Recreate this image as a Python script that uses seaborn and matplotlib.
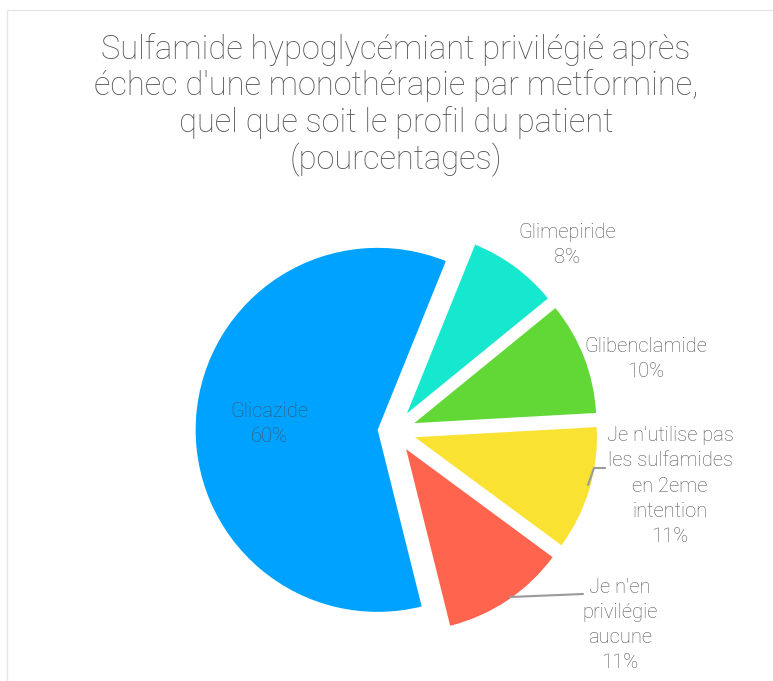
import matplotlib.pyplot as plt
import matplotlib.patches as mpatches
import seaborn as sns

sns.set_theme(style="white")
plt.rcParams['font.family'] = ['Roboto', 'DejaVu Sans']

labels = ["Glimepiride", "Glibenclamide",
          "Je n'utilise pas\nles sulfamides\nen 2eme\nintention",
          "Je n'en\nprivilégie\naucune", "Glicazide"]
values = [8, 10, 11, 11, 60]
colors = sns.color_palette(["#16E7CF", "#61D836", "#FAE232", "#FF644E", "#00A2FF"])
explode = [0.12, 0.12, 0.12, 0.12, 0.09]

title = ("Sulfamide hypoglycémiant privilégié après\n"
         "échec d'une monothérapie par metformine,\n"
         "quel que soit le profil du patient\n(pourcentages)")

W, H = 773, 681
CX, CY, R = 394, 431, 182


def px(x, y):
    # pixel position -> data units (radius = 1)
    return (x - CX) / R, (CY - y) / R


fig = plt.figure(figsize=(W / 100, H / 100), dpi=100)
fig.patches.append(mpatches.Rectangle((7 / W, -0.1), 1.2, 1.1 - 10 / H,
                                      transform=fig.transFigure, fill=False,
                                      edgecolor="#e6e6e6", lw=1))
ax = fig.add_axes([0, 0, 1, 1])
ax.pie(values, colors=colors, explode=explode, startangle=68,
       counterclock=False, radius=1, wedgeprops=dict(linewidth=0))
ax.set_xlim(-CX / R, (W - CX) / R)
ax.set_ylim(-(H - CY) / R, CY / R)
ax.set_aspect('auto')
ax.axis('off')

txt = dict(fontsize=14.5, ha="center", va="center",
           linespacing=1.42, fontweight="light")
label_px = [(567, 245), (646, 359), (670, 486), (620, 625), (269, 424)]
for lab, v, (x, y) in zip(labels, values, label_px):
    c = "#3f5566" if lab == "Glicazide" else "#555555"
    ax.text(*px(x, y), f"{lab}\n{v}%", color=c, **txt)

# leader lines
for pts in [[(588, 485), (594, 468), (605, 468)], [(510, 597), (583, 594)]]:
    xs, ys = zip(*[px(*p) for p in pts])
    ax.plot(xs, ys, color="#9a9a9a", lw=1.5)

fig.text(396 / W, 1 - 105 / H, title, ha="center", va="center",
         fontsize=23.5, color="#555555", fontweight="light", linespacing=1.15)

fig.savefig("out.png", dpi=100)
